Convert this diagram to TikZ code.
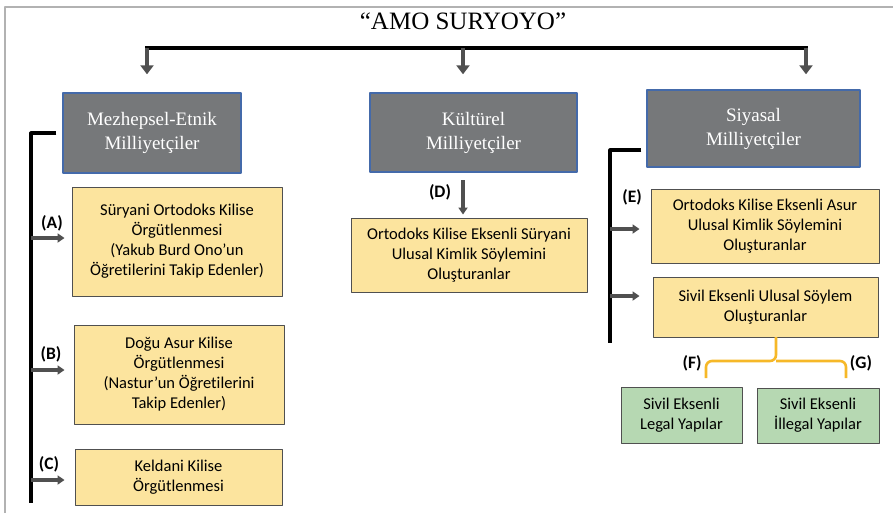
\documentclass[tikz,border=0pt]{standalone}
\usepackage{fontspec}
\setmainfont{Liberation Serif}
\newfontfamily\calfont[Ligatures=NoCommon]{Carlito}
\usetikzlibrary{arrows.meta}
\definecolor{boxgray}{RGB}{118,120,122}
\definecolor{boxblue}{RGB}{68,106,170}
\definecolor{boxyellow}{RGB}{252,228,158}
\definecolor{boxgreen}{RGB}{182,216,178}
\definecolor{bracegold}{RGB}{246,184,40}
\definecolor{arrgray}{RGB}{80,80,80}
\tikzset{
  head/.style={draw=boxblue,fill=boxgray,line width=1.4pt,text=white,align=center,
    font=\fontsize{19}{24}\selectfont},
  ybox/.style={draw=arrgray,fill=boxyellow,line width=0.9pt,align=center,
    font=\calfont\fontsize{16.5}{20}\selectfont},
  gbox/.style={ybox,fill=boxgreen},
  lab/.style={font=\calfont\bfseries\fontsize{17.5}{19}\selectfont},
  bracket/.style={line width=3.2pt,line cap=butt},
  darrow/.style={arrgray,line width=4.5pt,-{Triangle[width=13pt,length=9pt]}},
  sarrow/.style={arrgray,line width=3.6pt,-{Triangle[width=9pt,length=7pt]}},
  brace/.style={bracegold,line width=2.6pt,rounded corners=6pt}
}
\begin{document}
\begin{tikzpicture}[x=1pt,y=-1pt,line join=round]
\useasboundingbox (0,0) rectangle (893,515);
% frame
\draw[gray!60,line width=1.5pt] (5,513) -- (5,7) -- (893,7);
\node[font=\fontsize{25}{28}\selectfont] (title) at (463,21) {“AMO SURYOYO”};
% heads
\node[head,minimum width=178pt,minimum height=80pt] (m) at (152,133) {Mezhepsel-Etnik\\Milliyetçiler};
\node[head,minimum width=207pt,minimum height=79pt] (k) at (473.5,132.5) {Kültürel\\Milliyetçiler};
\node[head,minimum width=213pt,minimum height=77pt] (s) at (753.5,128.5) {Siyasal\\Milliyetçiler};
% top bar
\coordinate (bl) at (147,48);
\coordinate (bm) at (463,48);
\coordinate (br) at (806,48);
\draw[bracket,line width=3.6pt] ([xshift=-2pt]bl) -- ([xshift=2pt]br);
\draw[darrow,shorten >=18pt] (bl) -- (bl |- m.north);
\draw[darrow,shorten >=18pt] (bm) -- (bm |- k.north);
\draw[darrow,shorten >=15pt] (br) -- (br |- s.north);
% left branch
\node[ybox,minimum width=210pt,minimum height=109pt] (a) at (177,241.5)
  {Süryani Ortodoks Kilise\\Örgütlenmesi\\(Yakub Burd Ono’un\\Öğretilerini Takip Edenler)};
\node[ybox,minimum width=210pt,minimum height=99pt] (b) at (179,374.5)
  {Doğu Asur Kilise\\Örgütlenmesi\\(Nastur’un Öğretilerini\\Takip Edenler)};
\node[ybox,minimum width=207pt,minimum height=56pt] (c) at (178.5,477)
  {Keldani Kilise\\Örgütlenmesi};
\coordinate (ltop) at (31,133);
\coordinate (lbot) at (31,503);
\draw[bracket] ([xshift=-6pt]m.west) -- (ltop) -- (lbot);
\coordinate (a0) at (31,238);
\coordinate (b0) at (31,370);
\coordinate (c0) at (31,480);
\draw[sarrow,shorten >=7pt] (a0) -- (a0 -| a.west);
\draw[sarrow,shorten >=9pt] (b0) -- (b0 -| b.west);
\draw[sarrow,shorten >=10pt] (c0) -- (c0 -| c.west);
\node[lab] (la) at (52,223) {(A)};
\node[lab] (lb) at (51,354) {(B)};
\node[lab] (lc) at (49,464) {(C)};
% middle branch
\node[ybox,minimum width=236pt,minimum height=74pt] (d) at (469,255)
  {Ortodoks Kilise Eksenli Süryani\\Ulusal Kimlik Söylemini\\Oluşturanlar};
\coordinate (d0) at (463,180);
\draw[sarrow,line width=4pt,shorten >=3pt] (d0) -- (d0 |- d.north);
\node[lab] (ld) at (440,192) {(D)};
% right branch
\node[ybox,minimum width=228pt,minimum height=74pt] (e) at (765,226)
  {Ortodoks Kilise Eksenli Asur\\Ulusal Kimlik Söylemini\\Oluşturanlar};
\node[ybox,minimum width=225pt,minimum height=60pt] (v) at (765.5,307)
  {Sivil Eksenli Ulusal Söylem\\Oluşturanlar};
\coordinate (rtop) at (610,150);
\coordinate (rbot) at (610,343);
\draw[bracket] ([xshift=-5pt]s.west |- rtop) -- (rtop) -- (rbot);
\coordinate (e0) at (610,229);
\coordinate (v0) at (610,296);
\draw[sarrow,shorten >=11pt] (e0) -- (e0 -| e.west);
\draw[sarrow,shorten >=13pt] (v0) -- (v0 -| v.west);
\node[lab] (le) at (632,197) {(E)};
% civil split
\node[gbox,minimum width=121pt,minimum height=56pt] (f) at (681.5,415)
  {Sivil Eksenli\\Legal Yapılar};
\node[gbox,minimum width=122pt,minimum height=55pt] (g) at (818,415.5)
  {Sivil Eksenli\\İllegal Yapılar};
\coordinate (vs) at (776,337);
\coordinate (bj) at (776,361);
\coordinate (fb) at (706,378);
\coordinate (gb) at (846,378);
\draw[brace] (fb) |- (bj) -- (vs);
\draw[brace] (gb) |- (bj);
\node[lab] (lf) at (692,363) {(F)};
\node[lab] (lg) at (861,363) {(G)};
\end{tikzpicture}
\end{document}
